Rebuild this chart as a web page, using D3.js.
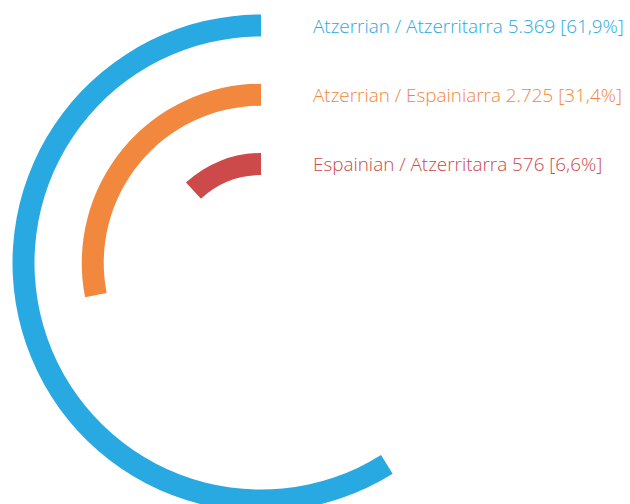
<!DOCTYPE html>
<html>
<head>
<meta charset="utf-8">
<script src="https://cdn.jsdelivr.net/npm/d3@7"></script>
<style>
    html, body { margin: 0; padding: 0; background: #fff; }
    svg { display: block; }
    .label { font-family: "Open Sans", sans-serif; font-size: 20px; font-weight: 300; }
</style>
</head>
<body>
<div id="chart"></div>
<script>
let categories = ['Atzerrian / Atzerritarra', 'Atzerrian / Espainiarra', 'Espainian / Atzerritarra'];
let values = [5369, 2725, 576];
let colors = ['#29a9e1', '#f1883d', '#cc4a4a'];

let width = 630, height = 504;
let cx = 261, cy = 263;

/* Basque number style: dot for thousands, comma for decimals */
let locale = d3.formatLocale({decimal: ',', thousands: '.', grouping: [3], currency: ['', '€']});
let fmtNum = locale.format(',d');
let fmtPct = locale.format('.1%');

let total = d3.sum(values);

let rows = categories.map((c, i) => ({name: c, value: values[i], color: colors[i]}));

/* Sweep of each ring as drawn in the source (not proportional) */
let angle = d3.scaleLinear()
    .domain([0, values[2], values[1], values[0]])
    .range([0, 43, 101, 212].map(d => d * Math.PI / 180));

/* Ring position: one ring per category, outer to inner */
let radius = d3.scalePoint()
    .domain(categories)
    .range([237.5, 99]);

let thickness = 22;

let arc = d3.arc()
    .innerRadius(d => radius(d.name) - thickness / 2)
    .outerRadius(d => radius(d.name) + thickness / 2)
    .startAngle(0)
    .endAngle(d => -angle(d.value));

let svg = d3.select('#chart').append('svg')
    .attr('width', width)
    .attr('height', height);

let g = svg.append('g')
    .attr('transform', `translate(${cx},${cy})`);

g.selectAll('path')
    .data(rows)
    .enter()
    .append('path')
    .attr('d', arc)
    .attr('fill', d => d.color);

let labels = g.selectAll('text')
    .data(rows)
    .enter()
    .append('text')
    .attr('class', 'label')
    .attr('x', 52)
    .attr('y', d => -radius(d.name) + 7)
    .attr('fill', d => d.color)
    .text(d => `${d.name} ${fmtNum(d.value)} [${fmtPct(d.value / total)}]`);

/* The source face is narrower: shrink so the longest label ends just short of the edge */
let longest = d3.max(labels.nodes(), n => n.getComputedTextLength());
let size = 20 * (width - cx - 52 - 6) / longest;
labels.style('font-size', size + 'px');
</script>
</body>
</html>
